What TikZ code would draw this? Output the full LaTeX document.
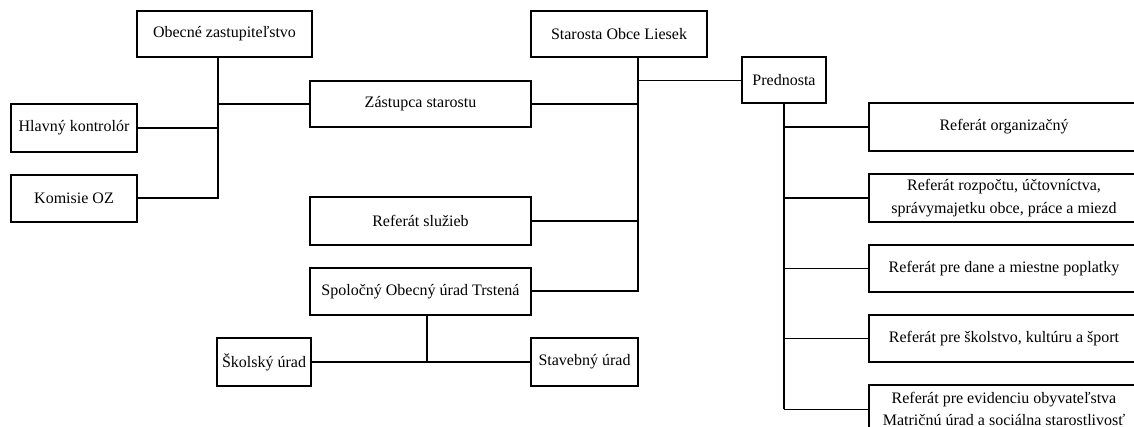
\documentclass[tikz,border=0pt]{standalone}
\usepackage{fontspec}
\setmainfont{Liberation Serif}
\tikzset{
    box/.style={draw, line width=1pt, inner sep=0pt, align=center, font=\fontsize{12}{17}\selectfont},
    thickline/.style={line width=1.5pt},
    thinline/.style={line width=0.7pt}
}
\begin{document}
\begin{tikzpicture}[x=0.75pt, y=-0.75pt]
         \clip (0,0) rectangle (1134,427);
         \fill[white] (0,0) rectangle (1134,427);
         \begin{scope}
             \node (oz) at (224.5,34) [box, minimum width=175*0.75pt, minimum height=46*0.75pt]{Obecné zastupiteľstvo};
             \node (kontr) at (74,128) [box, minimum width=126*0.75pt, minimum height=48*0.75pt]{Hlavný kontrolór};
             \node (komisie) at (74,198.5) [box, minimum width=126*0.75pt, minimum height=47*0.75pt]{Komisie OZ};
             \node (zast) at (420.5,104) [box, minimum width=221*0.75pt, minimum height=46*0.75pt]{Zástupca starostu};
             \node (sluzieb) at (420.5,221) [box, minimum width=221*0.75pt, minimum height=48*0.75pt]{Referát služieb};
             \node (spol) at (420.5,291.5) [box, minimum width=221*0.75pt, minimum height=47*0.75pt]{Spoločný Obecný úrad Trstená};
             \node (skolsky) at (264,362) [box, minimum width=94*0.75pt, minimum height=48*0.75pt]{Školský úrad};
             \node (stav) at (584.5,362) [box, minimum width=107*0.75pt, minimum height=48*0.75pt]{Stavebný úrad};
             \node (starosta) at (619,34) [box, minimum width=176*0.75pt, minimum height=46*0.75pt]{Starosta Obce Liesek};
             \node (prednosta) at (784,80) [box, minimum width=84*0.75pt, minimum height=46*0.75pt]{Prednosta};

             \node (org) at (1004,127) [box, minimum width=270*0.75pt, minimum height=48*0.75pt]{Referát organizačný};
             \node (rozp) at (1004,198) [box, minimum width=270*0.75pt, minimum height=48*0.75pt]{Referát rozpočtu, účtovníctva,\\ správymajetku obce, práce a miezd};
             \node (dane) at (1004,268.5) [box, minimum width=270*0.75pt, minimum height=47*0.75pt]{Referát pre dane a miestne poplatky};
             \node (skol) at (1004,338.5) [box, minimum width=270*0.75pt, minimum height=47*0.75pt]{Referát pre školstvo, kultúru a šport};
             \node (evid) at (1004,409) [box, minimum width=270*0.75pt, minimum height=48*0.75pt]{Referát pre evidenciu obyvateľstva\\ Matričnú úrad a sociálna starostlivosť};

             \coordinate (t1) at (218,198.5);
             \coordinate (t2) at (638,291.5);
             \coordinate (t3) at (427,362);

             \draw[thickline] (t1 |- oz.south) -- (t1) -- (komisie.east);
             \draw[thickline] (kontr.east) -- (kontr.east -| t1);
             \draw[thickline] (zast.west) -- (zast.west -| t1);

             \draw[thickline] (t2 |- starosta.south) -- (t2) -- (spol.east);
             \draw[thickline] (zast.east) -- (zast.east -| t2);
             \draw[thickline] (sluzieb.east) -- (sluzieb.east -| t2);
             \draw[thinline] (t2 |- prednosta.west) -- (prednosta.west);

             \draw[thickline] (prednosta.south) -- (prednosta.south |- evid.west);
             \foreach \r in {org, rozp}
                 \draw[thickline] (prednosta.south |- \r.west) -- (\r.west);
             \foreach \r in {dane, skol, evid}
                 \draw[thinline] (prednosta.south |- \r.west) -- (\r.west);

             \draw[thickline] (t3 |- spol.south) -- (t3);
             \draw[thickline] (skolsky.east) -- (stav.west);
         \end{scope}
\end{tikzpicture}
\end{document}
